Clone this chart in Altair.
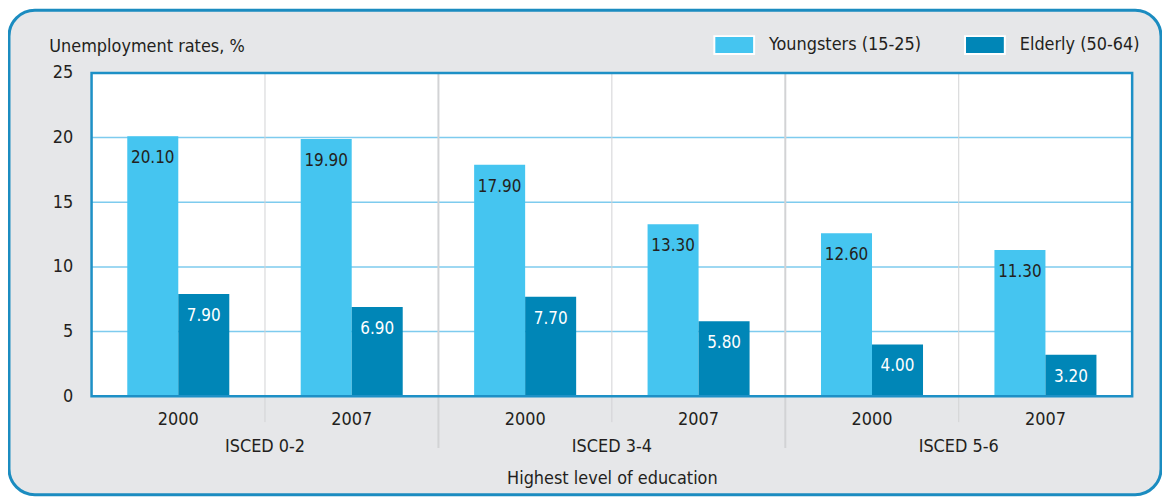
import altair as alt
import pandas as pd

groups = ["ISCED 0-2", "ISCED 3-4", "ISCED 5-6"]
years = ["2000", "2007"]
series = ["Youngsters (15-25)", "Elderly (50-64)"]
youngsters = [20.10, 19.90, 17.90, 13.30, 12.60, 11.30]
elderly = [7.90, 6.90, 7.70, 5.80, 4.00, 3.20]
y_ticks = [0, 5, 10, 15, 20, 25]
grid_ticks = [5, 10, 15, 20]

FONT = "DejaVu Sans Condensed"
FS = 18
W, H = 1046, 325

slots = [f"{g}|{y}" for g in groups for y in years]
rows = []
for i, s in enumerate(slots):
    rows.append({"slot": s, "series": series[0], "value": youngsters[i]})
    rows.append({"slot": s, "series": series[1], "value": elderly[i]})
df = pd.DataFrame(rows)

x_scale = alt.Scale(domain=slots, paddingInner=0, paddingOuter=0)
y_scale = alt.Scale(domain=[0, 25], nice=False)
x_axis = alt.Axis(
    labelExpr="split(datum.label, '|')[1]", labelAngle=0, ticks=False, domain=False,
    grid=False, labelPadding=14, labelFontSize=FS, labelColor="#231f20",
    title="Highest level of education", titleFontSize=FS, titleFontWeight="normal",
    titleColor="#231f20", titleY=83, titleBaseline="middle", zindex=1,
)
y_axis = alt.Axis(
    values=y_ticks, ticks=False, domain=False, grid=False, labelPadding=19,
    labelFontSize=FS, labelColor="#231f20", labelBaseline="middle",
    title="Unemployment rates, %", titleAngle=0, titleAlign="left", titleX=-43,
    titleY=-27, titleBaseline="middle", titleFontSize=FS, titleFontWeight="normal",
    titleColor="#231f20", zindex=1,
)

one = pd.DataFrame({"a": [0]})

bg = alt.Chart(one).mark_rect(
    fill="#e6e7e9", stroke="#1b8cc0", strokeWidth=3, cornerRadius=26
).encode(x=alt.value(-83), x2=alt.value(1075), y=alt.value(-63), y2=alt.value(424))

plot_bg = alt.Chart(one).mark_rect(fill="white").encode(
    x=alt.value(0), x2=alt.value(W), y=alt.value(0), y2=alt.value(H)
)

grid = alt.Chart(pd.DataFrame({"t": grid_ticks})).mark_rule(
    color="#7ecbee", strokeWidth=1.5
).encode(
    y=alt.Y("t:Q", scale=y_scale, axis=y_axis), x=alt.value(0), x2=alt.value(W)
)

minor_sep = alt.Chart(pd.DataFrame({"slot": [f"{g}|2007" for g in groups]})).mark_rule(
    color="#d2d3d5", strokeWidth=1
).encode(
    x=alt.X("slot:N", sort=slots, scale=x_scale, axis=x_axis, bandPosition=0),
    y=alt.value(0), y2=alt.value(351),
)

major_sep = alt.Chart(pd.DataFrame({"slot": [f"{g}|2000" for g in groups[1:]]})).mark_rule(
    color="#d2d3d5", strokeWidth=2
).encode(
    x=alt.X("slot:N", sort=slots, scale=x_scale, axis=x_axis, bandPosition=0),
    y=alt.value(0), y2=alt.value(377),
)

group_labels = alt.Chart(pd.DataFrame({"slot": [f"{g}|2007" for g in groups], "g": groups})).mark_text(
    font=FONT, fontSize=FS, color="#231f20", baseline="middle"
).encode(
    x=alt.X("slot:N", sort=slots, scale=x_scale, axis=x_axis, bandPosition=0),
    y=alt.value(376), text="g:N",
)

bars = alt.Chart(df).mark_bar().encode(
    x=alt.X("slot:N", sort=slots, scale=x_scale, axis=x_axis),
    xOffset=alt.XOffset("series:N", sort=series, scale=alt.Scale(paddingOuter=0.7, paddingInner=0)),
    y=alt.Y("value:Q", scale=y_scale, axis=y_axis),
    color=alt.Color(
        "series:N", sort=series,
        scale=alt.Scale(domain=series, range=["#45c5f0", "#0086b7"]),
        legend=alt.Legend(
            title=None, orient="none", legendX=625, legendY=-49, direction="horizontal",
            symbolType="M-1,-0.45L1,-0.45L1,0.45L-1,0.45Z", symbolSize=1600,
            symbolStrokeColor="white", symbolStrokeWidth=2, symbolOpacity=1,
            labelFontSize=FS, labelFont=FONT, labelColor="#231f20", labelLimit=400,
            labelOffset=14, columnPadding=40,
        ),
    ),
)

labels = alt.Chart(df).mark_text(font=FONT, fontSize=17, baseline="middle", dy=22).encode(
    x=alt.X("slot:N", sort=slots, scale=x_scale, axis=x_axis),
    xOffset=alt.XOffset("series:N", sort=series, scale=alt.Scale(paddingOuter=0.7, paddingInner=0)),
    y=alt.Y("value:Q", scale=y_scale, axis=y_axis),
    text=alt.Text("value:Q", format=".2f"),
    color=alt.condition(alt.datum.series == series[0], alt.value("#231f20"), alt.value("white")),
)

border = alt.Chart(one).mark_rect(fill=None, stroke="#1d90c6", strokeWidth=2.5).encode(
    x=alt.value(0), x2=alt.value(W), y=alt.value(0), y2=alt.value(H)
)

chart = alt.layer(
    bg, plot_bg, grid, minor_sep, major_sep, group_labels, bars, labels, border
).properties(
    width=W, height=H,
    autosize=alt.AutoSizeParams(type="none"),
    padding={"left": 84, "top": 64, "right": 30, "bottom": 100},
).configure(font=FONT, background="white").configure_view(stroke=None)

chart.save("out.html", embed_options={"renderer": "svg", "actions": False})
